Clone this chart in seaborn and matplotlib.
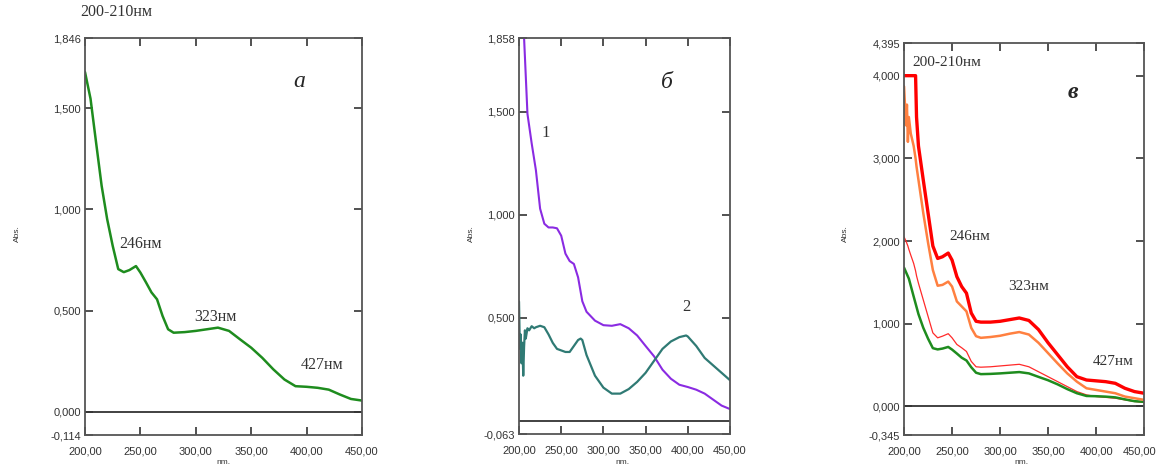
import pandas as pd
import matplotlib
matplotlib.use("Agg")
import matplotlib.pyplot as plt
import matplotlib.transforms as mtransforms
import seaborn as sns
from matplotlib.ticker import FixedLocator, FuncFormatter

# ---- data ----
# panel a (also the green curve of panel в)
green_nm = [200, 205, 210, 215, 220, 225, 230, 235, 240, 246, 250, 255, 260, 265, 270, 275,
            280, 290, 300, 310, 320, 330, 340, 350, 360, 370, 380, 390, 400, 410, 420, 430, 440, 450]
green_abs = [1.678, 1.546, 1.33, 1.117, 0.952, 0.82, 0.705, 0.69, 0.70, 0.72, 0.688, 0.64, 0.59, 0.556,
             0.474, 0.408, 0.391, 0.394, 0.40, 0.408, 0.416, 0.40, 0.358, 0.317, 0.267, 0.21, 0.16,
             0.127, 0.124, 0.119, 0.11, 0.086, 0.064, 0.056]

# panel б, curve 1 (purple)
p1_nm = [200, 205, 210, 215, 220, 225, 230, 235, 240, 245, 250, 255, 260, 265, 270, 275, 280, 290,
         300, 310, 320, 330, 340, 350, 360, 370, 380, 390, 400, 410, 420, 430, 440, 450]
p1_abs = [2.15, 1.95, 1.49, 1.347, 1.217, 1.03, 0.957, 0.939, 0.939, 0.935, 0.899, 0.812, 0.776, 0.762,
          0.697, 0.581, 0.53, 0.487, 0.465, 0.462, 0.47, 0.45, 0.415, 0.364, 0.314, 0.249, 0.205,
          0.176, 0.165, 0.152, 0.133, 0.104, 0.075, 0.058]

# panel б, curve 2 (teal)
p2_nm = [200, 201, 202, 203, 204, 205, 206, 207, 208, 210, 212, 215, 218, 220, 225, 230, 235, 240, 245,
         255, 260, 265, 270, 273, 275, 280, 285, 290, 300, 310, 320, 330, 340, 350, 360, 370, 380, 390,
         398, 400, 410, 420, 430, 440, 450]
p2_abs = [0.58, 0.35, 0.42, 0.28, 0.38, 0.22, 0.36, 0.44, 0.40, 0.45, 0.44, 0.46, 0.45, 0.455, 0.462,
          0.455, 0.42, 0.379, 0.35, 0.335, 0.335, 0.364, 0.393, 0.40, 0.393, 0.32, 0.27, 0.22, 0.162,
          0.133, 0.133, 0.155, 0.19, 0.234, 0.292, 0.35, 0.386, 0.407, 0.415, 0.41, 0.364, 0.306, 0.27,
          0.234, 0.198]

# panel в
v_nm = [200, 202, 203, 204, 205, 207, 210, 212, 213, 215, 220, 225, 230, 235, 240, 246, 250, 255, 260,
        265, 270, 275, 280, 290, 300, 310, 320, 330, 340, 350, 360, 370, 380, 390, 400, 410, 420, 430,
        440, 450]
red_thick = [4.0, 4.0, 4.0, 4.0, 4.0, 4.0, 4.0, 4.0, 3.5, 3.15, 2.74, 2.34, 1.94, 1.79, 1.81, 1.855,
             1.77, 1.57, 1.45, 1.37, 1.13, 1.03, 1.02, 1.02, 1.03, 1.05, 1.07, 1.04, 0.93, 0.77, 0.625,
             0.48, 0.36, 0.32, 0.31, 0.30, 0.28, 0.22, 0.18, 0.16]
orange = [3.87, 3.4, 3.65, 3.2, 3.5, 3.3, 3.15, 3.0, 2.9, 2.74, 2.34, 1.98, 1.65, 1.46, 1.47, 1.51,
          1.45, 1.27, 1.21, 1.15, 0.95, 0.85, 0.83, 0.84, 0.855, 0.88, 0.90, 0.87, 0.77, 0.645, 0.52,
          0.40, 0.30, 0.22, 0.20, 0.18, 0.16, 0.12, 0.10, 0.08]
red_thin = [2.05, 2.0, 1.97, 1.94, 1.9, 1.83, 1.73, 1.64, 1.58, 1.49, 1.29, 1.09, 0.89, 0.83, 0.85, 0.88,
            0.83, 0.75, 0.71, 0.665, 0.545, 0.48, 0.475, 0.48, 0.49, 0.50, 0.51, 0.48, 0.42, 0.36, 0.30,
            0.24, 0.18, 0.14, 0.12, 0.11, 0.10, 0.08, 0.06, 0.05]

x_ticks = [200, 250, 300, 350, 400, 450]

sns.set_style("white")
plt.rcParams['font.family'] = ['Liberation Sans', 'DejaVu Sans']

fig = plt.figure(figsize=(11.58, 4.68), dpi=100)
ax_a = fig.add_axes([0.0734, 0.0705, 0.2392, 0.8483])
ax_b = fig.add_axes([0.4482, 0.0726, 0.1822, 0.8462])
ax_v = fig.add_axes([0.7807, 0.0705, 0.2073, 0.8376])

serif = ['Liberation Serif', 'DejaVu Serif']


def fmt_y(v, pos):
    return f"{v:.3f}".replace('.', ',')


def fmt_x(v, pos):
    return f"{v:.2f}".replace('.', ',')


def style_axes(ax, ylo, yhi, yticks, ylabel_x):
    ax.set_xlim(200, 450)
    ax.set_ylim(ylo, yhi)
    ax.axhline(0, color='#333333', lw=1.3, zorder=1)
    ax.xaxis.set_major_locator(FixedLocator(x_ticks))
    ax.yaxis.set_major_locator(FixedLocator([ylo] + yticks + [yhi]))
    ax.xaxis.set_major_formatter(FuncFormatter(fmt_x))
    ax.yaxis.set_major_formatter(FuncFormatter(fmt_y))
    ax.tick_params(direction='in', length=6, width=1.2, color='#333333', labelsize=8,
                   labelcolor='#333333', top=True, right=True, left=True, bottom=True)
    ax.tick_params(axis='x', pad=8)
    ax.tick_params(axis='y', pad=3)
    for s in ax.spines.values():
        s.set_color('#555555')
        s.set_linewidth(1.3)
    ax.set_xlabel('')
    ax.set_ylabel('')
    fig.text(ylabel_x, 0.5, 'Abs.', rotation=90, fontsize=6, color='#333333', ha='center', va='center')


# panel a
sns.lineplot(x=green_nm, y=green_abs, ax=ax_a, color='#1e8c1e', lw=1.8)
style_axes(ax_a, -0.114, 1.846, [0.0, 0.5, 1.0, 1.5], 17 / 1158)
ax_a.text(393, 1.633, 'а', fontsize=17, style='italic', family=serif, ha='center', va='center')
ax_a.text(231, 0.83, '246нм', fontsize=11.5, family=serif, color='#333333', va='center')
ax_a.text(299, 0.468, '323нм', fontsize=11.5, family=serif, color='#333333', va='center')
ax_a.text(394.5, 0.232, '427нм', fontsize=11.5, family=serif, color='#333333', va='center')
fig.text(80 / 1158, 1 - 12 / 468, '200-210нм', fontsize=11.5, family=serif, color='#333333', va='center')
fig.text(223 / 1158, 1 - 462 / 468, 'nm.', fontsize=6, ha='center', va='center', color='#333333')

# panel б
sns.lineplot(x=p1_nm, y=p1_abs, ax=ax_b, color='#8a2be2', lw=1.5)
sns.lineplot(x=p2_nm, y=p2_abs, ax=ax_b, color='#2f7a74', lw=1.6)
style_axes(ax_b, -0.063, 1.858, [0.5, 1.0, 1.5], 471 / 1158)
ax_b.text(375, 1.64, 'б', fontsize=17, style='italic', family=serif, ha='center', va='center')
ax_b.text(232, 1.397, '1', fontsize=12, family=serif, color='#333333', ha='center', va='center')
ax_b.text(398.7, 0.555, '2', fontsize=12, family=serif, color='#333333', ha='center', va='center')
fig.text(622 / 1158, 1 - 462 / 468, 'nm.', fontsize=6, ha='center', va='center', color='#333333')

# panel в
sns.lineplot(x=v_nm, y=red_thin, ax=ax_v, color='#ff2a2a', lw=0.9)
sns.lineplot(x=green_nm, y=green_abs, ax=ax_v, color='#1e8c1e', lw=1.8)
sns.lineplot(x=v_nm, y=orange, ax=ax_v, color='#ff8040', lw=1.8)
sns.lineplot(x=v_nm, y=red_thick, ax=ax_v, color='#ff0000', lw=2.4)
style_axes(ax_v, -0.345, 4.395, [0.0, 1.0, 2.0, 3.0, 4.0], 845 / 1158)
ax_v.text(376, 3.80, 'в', fontsize=17, style='italic', weight='bold', family=serif, ha='center', va='center')
ax_v.text(209, 4.165, '200-210нм', fontsize=11, family=serif, color='#333333', va='center')
ax_v.text(247, 2.06, '246нм', fontsize=11, family=serif, color='#333333', va='center')
ax_v.text(308, 1.445, '323нм', fontsize=11, family=serif, color='#333333', va='center')
ax_v.text(396, 0.54, '427нм', fontsize=11, family=serif, color='#333333', va='center')
fig.text(1021 / 1158, 1 - 462 / 468, 'nm.', fontsize=6, ha='center', va='center', color='#333333')

# keep the last x label of the right panel inside the picture
last_lbl = ax_v.get_xticklabels()[-1]
last_lbl.set_transform(last_lbl.get_transform() + mtransforms.ScaledTranslation(-5 / 100, 0, fig.dpi_scale_trans))

fig.savefig('out.png', dpi=100)
